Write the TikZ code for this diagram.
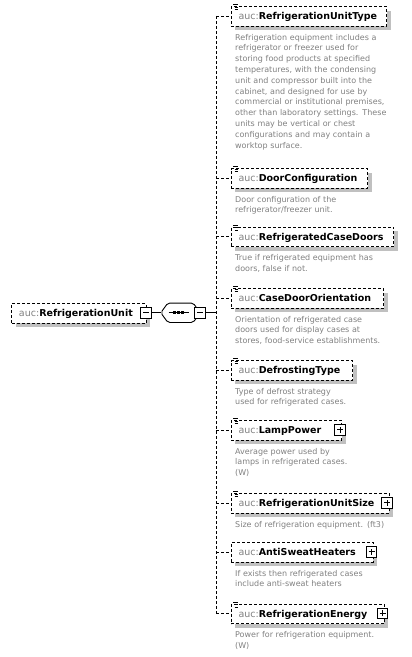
\documentclass[tikz,border=0pt]{standalone}
\usepackage{fontspec}
\setmainfont{DejaVu Sans}
\usetikzlibrary{shadows}
\definecolor{shgray}{RGB}{192,192,192}
\definecolor{txtgray}{RGB}{128,128,128}
\newcommand\ElemBox[6]{%
  \pgfmathsetmacro\ebw{#3-230.5-15}%
  \node[elem, text width=\ebw pt] (#1) at (230.5,#2) {\textcolor{txtgray}{auc:}\textbf{#4}};
  \node[desc] (#1d) at (235,#2+27.8) {#5};
  \draw[branch] (spinetop |- #1.west) -- (#1.west);
  \ifnum#6=1
    \draw[icon] (233.3,#2-1.2) -- (238.2,#2-1.2) (234.5,#2+1.3) -- (238.2,#2+1.3) (234.5,#2+3.6) -- (238.2,#2+3.6);
  \fi
}
\newcommand\PMBox[4]{%
  \node[pm] (#1) at (#2,#3) {};
  \draw[sign] ([xshift=-3pt]#1.center) -- ([xshift=3pt]#1.center);
  \ifnum#4=1 \draw[sign] ([yshift=-3pt]#1.center) -- ([yshift=3pt]#1.center); \fi
}
\begin{document}
\begin{tikzpicture}[x=1pt,y=-1pt,
  elem/.style={draw, dash pattern=on 3pt off 2pt, line width=1pt, fill=white, anchor=north west,
    inner xsep=7.5pt, inner ysep=0pt, minimum height=19.5pt, text height=8pt, text depth=1pt,
    align=left, font=\fontsize{9.5}{11}\selectfont,
    drop shadow={shadow xshift=4pt, shadow yshift=-4pt, fill=shgray, opacity=1, draw=none}},
  desc/.style={anchor=north west, inner sep=0pt, text width=170pt, align=left,
    font=\fontsize{8}{10.8}\selectfont, text=txtgray},
  branch/.style={dash pattern=on 3pt off 2pt, line width=1pt},
  icon/.style={line width=0.8pt},
  pm/.style={draw, fill=white, line width=1pt, minimum size=10.5pt, inner sep=0pt},
  sign/.style={line width=1pt},
  conn/.style={line width=1pt}]
\useasboundingbox (0,0) rectangle (412,657);

\coordinate (spinetop) at (216,15.75);
\coordinate (spinebot) at (216,613.25);
\coordinate (spine) at (216,312.75);
\draw[branch] (spinetop) -- (spinebot);

% root element
\node[elem, text width=119.5pt] (root) at (11,303) {\textcolor{txtgray}{auc:}\textbf{RefrigerationUnit}};
\PMBox{rminus}{146}{312.75}{0}

% sequence compositor
\node[minimum width=39pt, minimum height=19pt, inner sep=0pt] (seq) at (180.5,312.75) {};
\fill[shgray, rounded corners=2pt, shift={(3,3.5)}] (seq.west) -- ([xshift=7pt]seq.north west) -- ([xshift=-7pt]seq.north east) -- (seq.east) -- ([xshift=-7pt]seq.south east) -- ([xshift=7pt]seq.south west) -- cycle;
\draw[line width=0.9pt, fill=white, rounded corners=2pt] (seq.west) -- ([xshift=7pt]seq.north west) -- ([xshift=-7pt]seq.north east) -- (seq.east) -- ([xshift=-7pt]seq.south east) -- ([xshift=7pt]seq.south west) -- cycle;
\draw[line width=1pt] ([xshift=-12pt]seq.center) -- ([xshift=8pt]seq.center);
\foreach \dx in {-6,-2,2} \fill ([xshift=\dx pt]seq.center) ++(-1.3,-1.3) rectangle ++(2.6,2.6);
\PMBox{sminus}{200}{312.75}{0}

\draw[conn] (rminus.east) -- (seq.west);
\draw[conn] (sminus.east) -- (spine);

\ElemBox{rut}{6}{386}{RefrigerationUnitType}{Refrigeration equipment includes a\\refrigerator or freezer used for\\storing food products at specified\\temperatures, with the condensing\\unit and compressor built into the\\cabinet, and designed for use by\\commercial or institutional premises,\\other than laboratory settings. These\\units may be vertical or chest\\configurations and may contain a\\worktop surface.}{1}
\ElemBox{dc}{168}{367}{DoorConfiguration}{Door configuration of the\\refrigerator/freezer unit.}{1}
\ElemBox{rcd}{226.5}{393}{RefrigeratedCaseDoors}{True if refrigerated equipment has\\doors, false if not.}{1}
\ElemBox{cdo}{288}{383}{CaseDoorOrientation}{Orientation of refrigerated case\\doors used for display cases at\\stores, food-service establishments.}{1}
\ElemBox{dt}{360}{352}{DefrostingType}{Type of defrost strategy\\used for refrigerated cases.}{1}
\ElemBox{lp}{420}{341}{LampPower}{Average power used by\\lamps in refrigerated cases.\\(W)}{1}
\ElemBox{rus}{493}{388.5}{RefrigerationUnitSize}{Size of refrigeration equipment. (ft3)}{1}
\ElemBox{ash}{542}{372.5}{AntiSweatHeaters}{If exists then refrigerated cases\\include anti-sweat heaters}{0}
\ElemBox{re}{603.5}{383.5}{RefrigerationEnergy}{Power for refrigeration equipment.\\(W)}{1}

\PMBox{lpplus}{340}{429.75}{1}
\PMBox{rusplus}{387}{502.75}{1}
\PMBox{ashplus}{371.5}{551.75}{1}
\PMBox{replus}{382.5}{613.25}{1}
\end{tikzpicture}
\end{document}
